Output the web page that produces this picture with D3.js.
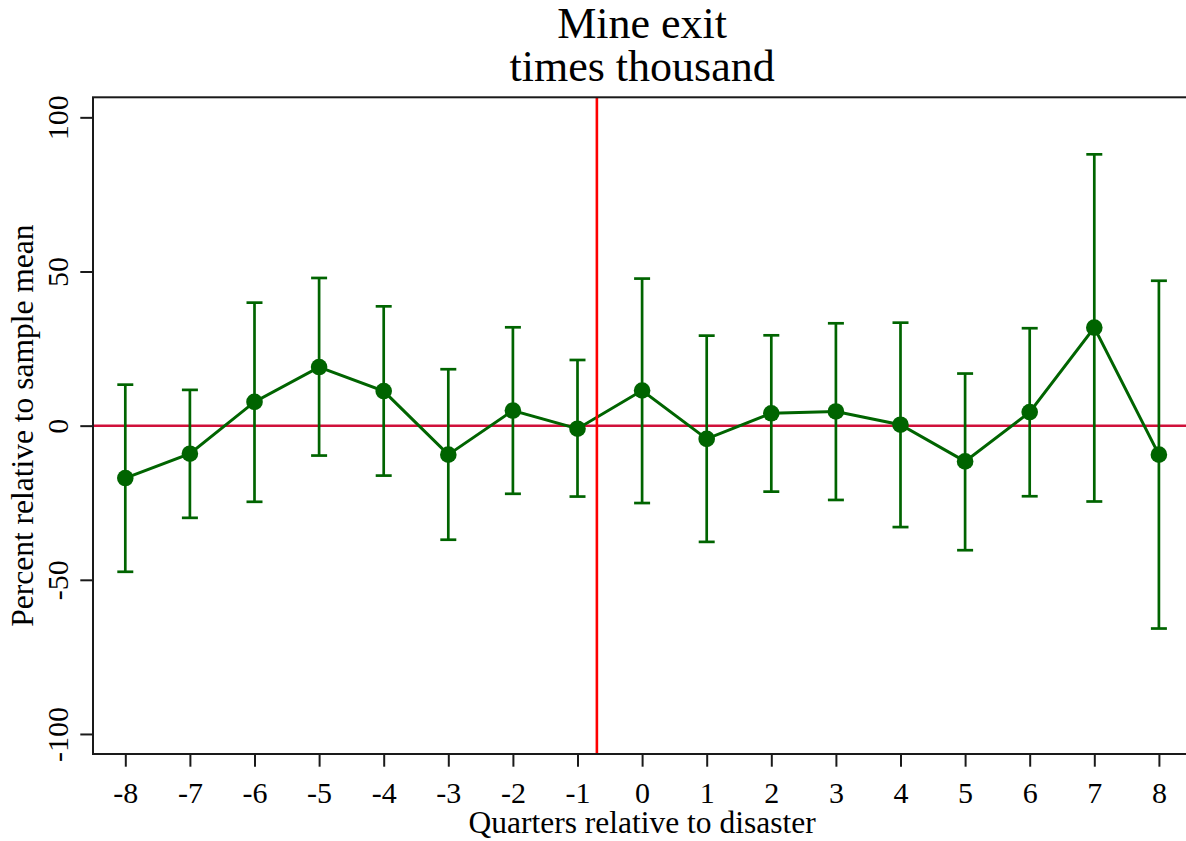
<!DOCTYPE html>
<html>
<head>
<meta charset="utf-8">
<script src="https://cdn.jsdelivr.net/npm/d3@7.9.0/dist/d3.min.js"></script>
<style>
  body { margin: 0; background: #fff; }
  svg { display: block; font-family: "Liberation Serif", "DejaVu Serif", serif; }
</style>
</head>
<body>
<svg id="chart" width="1186" height="841"></svg>
<script>
// quarters relative to the disaster
const quarters = [-8, -7, -6, -5, -4, -3, -2, -1, 0, 1, 2, 3, 4, 5, 6, 7, 8];
// point estimates (percent of sample mean)
const estimates = [-17.0, -9.1, 7.7, 19.0, 11.2, -9.4, 4.9, -1.0, 11.4, -4.3, 4.0, 4.6, 0.3, -11.6, 4.4, 31.8, -9.4];
// confidence interval bounds
const upper = [13.3, 11.6, 39.9, 47.9, 38.7, 18.3, 31.9, 21.3, 47.7, 29.2, 29.3, 33.2, 33.4, 16.9, 31.6, 88.0, 47.0];
const lower = [-47.4, -29.9, -24.7, -9.7, -16.2, -37.0, -22.1, -23.0, -25.1, -37.7, -21.4, -24.1, -32.9, -40.4, -22.9, -24.6, -65.8];
const yTicks = [-100, -50, 0, 50, 100];
const eventLine = -0.7;
const titleLines = ["Mine exit", "times thousand"];

const svg = d3.select('#chart');
const plotLeft = 93, plotTop = 97.3, plotBottom = 754;
const step = 64.6;

const x = d3.scaleLinear().domain([-8.5, 8.5]).range([plotLeft, plotLeft + 17 * step]);
const y = d3.scaleLinear().domain([-106.5, 106.5]).range([plotBottom, plotTop]);

const green = '#006400';
const data = quarters.map((q, i) => ({ q, est: estimates[i], hi: upper[i], lo: lower[i] }));
// plain hyphen for negatives, like the original
const fmt = d => String(d);

// title
svg.append('text')
    .attr('x', x(0))
    .attr('y', 38)
    .attr('text-anchor', 'middle')
    .attr('font-size', 44)
    .text(titleLines[0]);
svg.append('text')
    .attr('x', x(0))
    .attr('y', 81)
    .attr('text-anchor', 'middle')
    .attr('font-size', 44)
    .text(titleLines[1]);

// zero line
svg.append('line')
    .attr('x1', x(-8.5)).attr('x2', x(8.5))
    .attr('y1', y(0)).attr('y2', y(0))
    .attr('stroke', '#d0103a')
    .attr('stroke-width', 2.5);

// error bars
const bars = svg.append('g').attr('stroke', green).attr('stroke-width', 2.7);
data.forEach(d => {
    bars.append('line')
        .attr('x1', x(d.q)).attr('x2', x(d.q))
        .attr('y1', y(d.hi)).attr('y2', y(d.lo));
    [d.hi, d.lo].forEach(v => {
        bars.append('line')
            .attr('x1', x(d.q) - 8).attr('x2', x(d.q) + 8)
            .attr('y1', y(v)).attr('y2', y(v));
    });
});

// connecting line
svg.append('path')
    .datum(data)
    .attr('fill', 'none')
    .attr('stroke', green)
    .attr('stroke-width', 3)
    .attr('d', d3.line().x(d => x(d.q)).y(d => y(d.est)));

// markers
svg.append('g')
    .selectAll('circle')
    .data(data)
    .join('circle')
    .attr('cx', d => x(d.q))
    .attr('cy', d => y(d.est))
    .attr('r', 8.3)
    .attr('fill', green);

// disaster line
svg.append('line')
    .attr('x1', x(eventLine)).attr('x2', x(eventLine))
    .attr('y1', plotTop).attr('y2', plotBottom)
    .attr('stroke', '#ff0000')
    .attr('stroke-width', 2.6);

// frame
svg.append('rect')
    .attr('x', plotLeft).attr('y', plotTop)
    .attr('width', x(8.5) - plotLeft).attr('height', plotBottom - plotTop)
    .attr('fill', 'none')
    .attr('stroke', '#1a1a1a')
    .attr('stroke-width', 2);

// y axis
const yAxis = svg.append('g')
    .attr('transform', `translate(${plotLeft},0)`)
    .call(d3.axisLeft(y).tickValues(yTicks).tickSize(12.7).tickFormat(fmt));
yAxis.select('.domain').remove();
yAxis.selectAll('line').attr('stroke', '#1a1a1a').attr('stroke-width', 2);
yAxis.selectAll('text')
    .attr('font-size', 30)
    .attr('font-family', '"Liberation Serif", serif')
    .attr('fill', '#000')
    .attr('text-anchor', 'middle')
    .attr('transform', 'rotate(-90)')
    .attr('x', 0)
    .attr('y', -24.7)
    .attr('dy', 0);

// x axis
const xAxis = svg.append('g')
    .attr('transform', `translate(0,${plotBottom})`)
    .call(d3.axisBottom(x).tickValues(quarters).tickSize(12.7).tickFormat(fmt));
xAxis.select('.domain').remove();
xAxis.selectAll('line').attr('stroke', '#1a1a1a').attr('stroke-width', 2);
xAxis.selectAll('text')
    .attr('font-size', 30)
    .attr('font-family', '"Liberation Serif", serif')
    .attr('fill', '#000')
    .attr('y', 48.7)
    .attr('dy', 0);

// axis titles
svg.append('text')
    .attr('x', x(0))
    .attr('y', 832.7)
    .attr('text-anchor', 'middle')
    .attr('font-size', 31.5)
    .text('Quarters relative to disaster');
svg.append('text')
    .attr('transform', `translate(33,${y(0)}) rotate(-90)`)
    .attr('text-anchor', 'middle')
    .attr('font-size', 31.5)
    .text('Percent relative to sample mean');
</script>
</body>
</html>
